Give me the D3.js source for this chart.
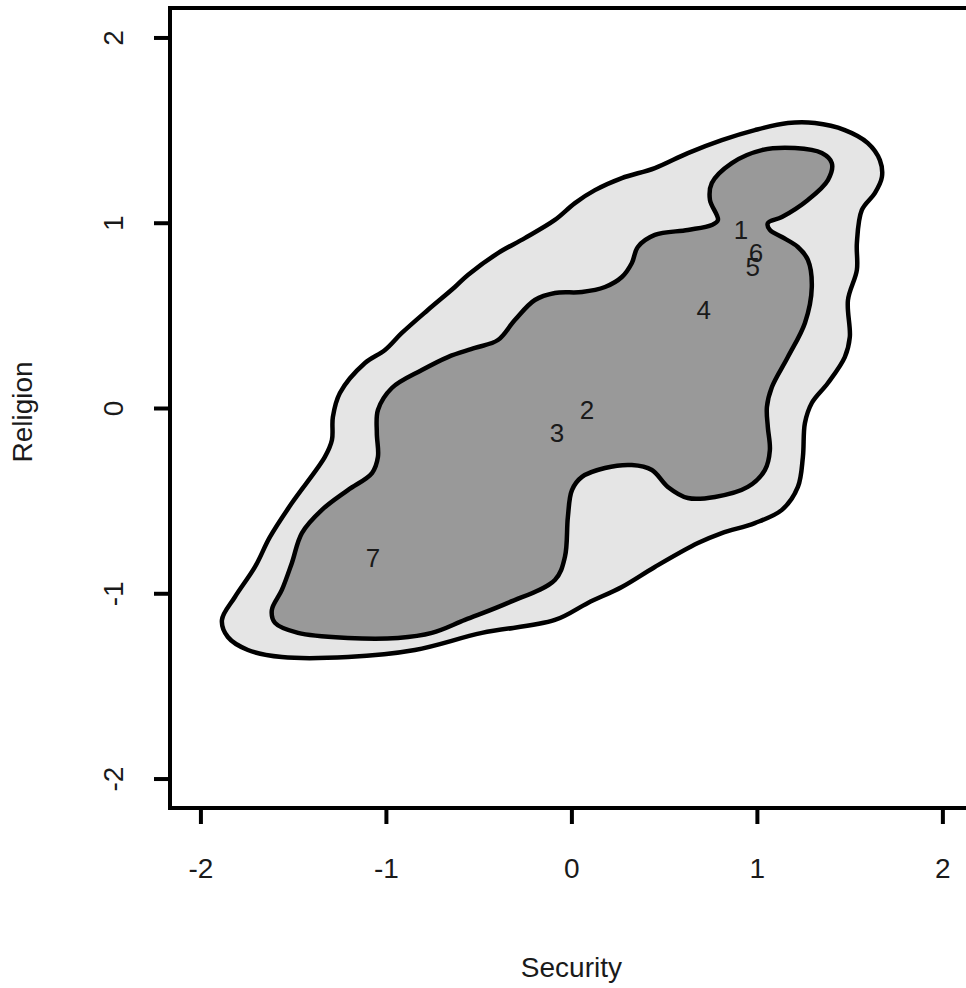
<!DOCTYPE html>
<html>
<head>
<meta charset="utf-8">
<script src="https://cdn.jsdelivr.net/npm/d3@7"></script>
<style>
  html, body { margin: 0; padding: 0; background: #fff; }
  svg { display: block; }
</style>
</head>
<body>
<svg id="chart" width="966" height="988"></svg>
<script>
// ---- data (in data units) ----
const xTicks = [-2, -1, 0, 1, 2];
const yTicks = [-2, -1, 0, 1, 2];
const xLabel = "Security";
const yLabel = "Religion";

// outer density contour (light grey region)
const outerContour = [
  [-1.884,-1.144],[-1.814,-1.020],[-1.706,-0.858],[-1.625,-0.696],[-1.507,-0.513],
  [-1.329,-0.264],[-1.291,-0.173],[-1.286,-0.049],[-1.248,0.081],[-1.113,0.243],
  [-1.005,0.313],[-0.914,0.405],[-0.774,0.529],[-0.628,0.653],[-0.558,0.718],
  [-0.396,0.836],[-0.251,0.917],[-0.089,1.015],[0.019,1.106],[0.127,1.176],
  [0.272,1.241],[0.450,1.295],[0.628,1.376],[0.811,1.446],[0.989,1.500],
  [1.167,1.538],[1.313,1.538],[1.474,1.500],[1.598,1.430],[1.663,1.338],
  [1.674,1.247],[1.636,1.160],[1.566,1.069],[1.539,0.890],[1.539,0.745],
  [1.491,0.583],[1.501,0.383],[1.474,0.275],[1.383,0.135],[1.296,0.027],
  [1.259,-0.081],[1.248,-0.264],[1.221,-0.426],[1.135,-0.550],[0.989,-0.621],
  [0.811,-0.675],[0.682,-0.729],[0.450,-0.858],[0.272,-0.966],[0.089,-1.052],
  [-0.089,-1.144],[-0.482,-1.214],[-0.844,-1.306],[-1.205,-1.344],[-1.561,-1.344],
  [-1.744,-1.306],[-1.852,-1.236]
];

// inner density contour (dark grey region)
const innerContour = [
  [-1.043,-0.011],[-1.049,-0.135],[-1.043,-0.264],[-1.075,-0.351],[-1.205,-0.443],
  [-1.345,-0.550],[-1.453,-0.675],[-1.507,-0.836],[-1.561,-0.982],[-1.615,-1.090],
  [-1.598,-1.160],[-1.474,-1.214],[-1.205,-1.241],[-0.935,-1.241],[-0.752,-1.214],
  [-0.574,-1.144],[-0.342,-1.052],[-0.089,-0.928],[-0.035,-0.804],[-0.019,-0.588],
  [0.003,-0.443],[0.057,-0.372],[0.181,-0.324],[0.326,-0.308],[0.434,-0.335],
  [0.520,-0.426],[0.628,-0.486],[0.774,-0.480],[0.951,-0.426],[1.043,-0.335],
  [1.070,-0.227],[1.059,-0.103],[1.054,0.005],[1.081,0.113],[1.167,0.275],
  [1.259,0.459],[1.296,0.653],[1.275,0.799],[1.221,0.869],[1.135,0.923],
  [1.070,0.961],[1.059,0.998],[1.135,1.031],[1.275,1.123],[1.383,1.230],
  [1.404,1.322],[1.350,1.376],[1.205,1.403],[1.027,1.392],[0.865,1.322],
  [0.757,1.214],[0.747,1.123],[0.790,1.015],[0.757,0.988],[0.628,0.961],
  [0.450,0.934],[0.358,0.869],[0.326,0.783],[0.272,0.707],[0.181,0.653],
  [0.057,0.626],[-0.089,0.621],[-0.197,0.583],[-0.305,0.475],[-0.396,0.367],
  [-0.520,0.324],[-0.666,0.275],[-0.806,0.205],[-0.968,0.108]
];

// group labels
const pointLabels = ["1","6","5","4","2","3","7"];
const pointX = [0.914, 0.995, 0.978, 0.714, 0.084, -0.078, -1.070];
const pointY = [0.960, 0.836, 0.760, 0.528, -0.011, -0.135, -0.810];

// ---- drawing ----
const svg = d3.select("#chart");
const font = "'Liberation Sans', Arial, sans-serif";
const fmt = d => String(d);   // plain hyphen-minus, as in the reference

const x = d3.scaleLinear().domain([-2.164, 2.164]).range([170, 972.8]);
const y = d3.scaleLinear().domain([-2.159, 2.159]).range([808, 8]);

const line = d3.line()
  .x(d => x(d[0])).y(d => y(d[1]))
  .curve(d3.curveCatmullRomClosed.alpha(0.5));

svg.append("path").attr("d", line(outerContour))
  .attr("fill", "#e5e5e5").attr("stroke", "#000")
  .attr("stroke-width", 4.5).attr("stroke-linejoin", "round");

svg.append("path").attr("d", line(innerContour))
  .attr("fill", "#999999").attr("stroke", "#000")
  .attr("stroke-width", 4.5).attr("stroke-linejoin", "round");

svg.append("g").selectAll("text").data(pointLabels).join("text")
  .attr("x", (d, i) => x(pointX[i]))
  .attr("y", (d, i) => y(pointY[i]))
  .attr("text-anchor", "middle")
  .attr("dominant-baseline", "central")
  .attr("font-family", font).attr("font-size", 26)
  .attr("fill", "#1a1a1a")
  .text(d => d);

// plot box
svg.append("rect")
  .attr("x", x.range()[0]).attr("y", y.range()[1])
  .attr("width", x.range()[1] - x.range()[0])
  .attr("height", y.range()[0] - y.range()[1])
  .attr("fill", "none").attr("stroke", "#000").attr("stroke-width", 4);

// x axis
const xAxis = svg.append("g").attr("transform", `translate(0,${y.range()[0]})`)
  .call(d3.axisBottom(x).tickValues(xTicks).tickSize(16).tickPadding(34)
        .tickFormat(fmt).tickSizeOuter(0));
xAxis.select(".domain").attr("d", `M${x(-2)},0H${x(2)}`).attr("stroke-width", 4);
xAxis.selectAll(".tick line").attr("stroke-width", 4);
xAxis.selectAll("text").attr("font-family", font).attr("font-size", 28).attr("fill", "#1a1a1a");

// y axis
const yAxis = svg.append("g").attr("transform", `translate(${x.range()[0]},0)`)
  .call(d3.axisLeft(y).tickValues(yTicks).tickSize(16)
        .tickFormat(fmt).tickSizeOuter(0));
yAxis.select(".domain").attr("d", `M0,${y(-2)}V${y(2)}`).attr("stroke-width", 4);
yAxis.selectAll(".tick line").attr("stroke-width", 4);
yAxis.selectAll("text")
  .attr("x", null).attr("y", null).attr("dy", null)
  .attr("transform", "translate(-57,0) rotate(-90)")
  .attr("text-anchor", "middle")
  .attr("dominant-baseline", "central")
  .attr("font-family", font).attr("font-size", 28).attr("fill", "#1a1a1a");

// axis titles
svg.append("text")
  .attr("x", x(0)).attr("y", 977)
  .attr("text-anchor", "middle")
  .attr("font-family", font).attr("font-size", 28).attr("fill", "#1a1a1a")
  .text(xLabel);

svg.append("text")
  .attr("transform", `translate(32,${y(0) + 4}) rotate(-90)`)
  .attr("text-anchor", "middle")
  .attr("font-family", font).attr("font-size", 28).attr("fill", "#1a1a1a")
  .text(yLabel);
</script>
</body>
</html>
